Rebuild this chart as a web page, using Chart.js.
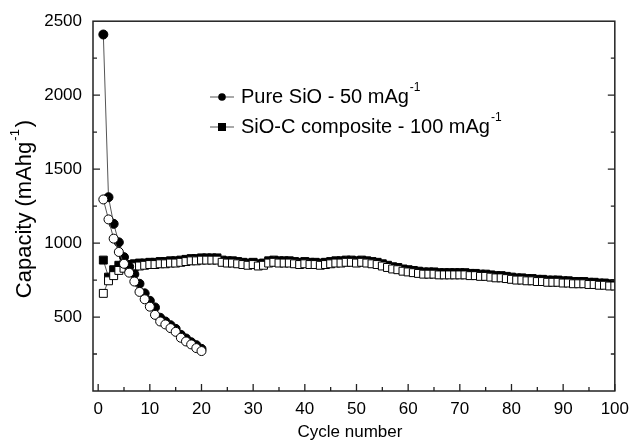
<!DOCTYPE html>
<html>
<head>
<meta charset="utf-8">
<script src="https://cdn.jsdelivr.net/npm/chart.js@4"></script>
<style>
  html, body { margin: 0; padding: 0; background: #fff; }
  #wrap { width: 637px; height: 445px; }
</style>
</head>
<body>
<div id="wrap"><canvas id="capacity" width="637" height="445"></canvas></div>
<script>
// cycle numbers
const cycles = [
  1, 2, 3, 4, 5, 6, 7, 8, 9, 10, 11, 12, 13, 14, 15, 16, 17, 18, 19, 20,
  21, 22, 23, 24, 25, 26, 27, 28, 29, 30, 31, 32, 33, 34, 35, 36, 37, 38, 39, 40,
  41, 42, 43, 44, 45, 46, 47, 48, 49, 50, 51, 52, 53, 54, 55, 56, 57, 58, 59, 60,
  61, 62, 63, 64, 65, 66, 67, 68, 69, 70, 71, 72, 73, 74, 75, 76, 77, 78, 79, 80,
  81, 82, 83, 84, 85, 86, 87, 88, 89, 90, 91, 92, 93, 94, 95, 96, 97, 98, 99, 100,
];

// Pure SiO, 50 mA/g (cycles 1-20)
const sioDischarge = [2410, 1310, 1130, 1005, 905, 840, 790, 725, 660, 610,
  565, 495, 470, 445, 420, 380, 355, 330, 310, 285];
const sioCharge = [1295, 1160, 1030, 940, 860, 800, 740, 670, 620, 570,
  515, 470, 450, 425, 400, 360, 335, 315, 290, 270];

// SiO-C composite, 100 mA/g (cycles 1-100)
const compDischarge = [
  885, 770, 820, 850, 860, 855, 860, 865, 865, 870,
  870, 875, 875, 880, 880, 885, 890, 895, 895, 900,
  900, 900, 900, 885, 880, 880, 875, 870, 865, 870,
  860, 865, 880, 885, 880, 880, 880, 875, 870, 875,
  870, 870, 865, 870, 875, 880, 880, 885, 885, 880,
  885, 880, 875, 870, 860, 850, 840, 835, 825, 820,
  815, 810, 805, 805, 805, 800, 800, 800, 800, 800,
  800, 795, 795, 790, 790, 785, 780, 780, 775, 770,
  765, 765, 760, 760, 755, 755, 750, 750, 750, 745,
  745, 740, 740, 740, 735, 735, 730, 730, 725, 725,
];
const compCharge = [
  660, 745, 780, 815, 830, 835, 840, 845, 850, 855,
  855, 860, 860, 865, 865, 870, 875, 880, 880, 885,
  885, 885, 885, 870, 865, 865, 860, 855, 850, 855,
  845, 850, 865, 870, 865, 865, 865, 860, 855, 860,
  855, 855, 850, 855, 860, 865, 865, 870, 870, 865,
  870, 865, 860, 855, 845, 835, 825, 820, 810, 805,
  800, 795, 790, 790, 790, 785, 785, 785, 785, 785,
  785, 780, 780, 775, 775, 770, 765, 765, 760, 755,
  750, 750, 745, 745, 740, 740, 735, 735, 735, 730,
  730, 725, 725, 725, 720, 720, 715, 715, 710, 710,
];

const xTicks = [0, 10, 20, 30, 40, 50, 60, 70, 80, 90, 100];
const yTicks = [500, 1000, 1500, 2000, 2500];

const legendItems = ["Pure SiO - 50 mAg", "SiO-C composite - 100 mAg"];

function pts(values) {
  return values.map((v, i) => ({ x: cycles[i], y: v }));
}

const FONT = "Liberation Sans, Arial, sans-serif";
const lineColor = "#555";

// write text with a "-1" superscript after it
function supText(ctx, base, sup, x, y, size) {
  ctx.font = size + "px " + FONT;
  ctx.fillText(base, x, y);
  const w = ctx.measureText(base).width;
  ctx.font = Math.round(size * 0.6) + "px " + FONT;
  ctx.fillText(sup, x + w + 1, y - size * 0.45);
  return w + 1 + ctx.measureText(sup).width;
}

const framePlugin = {
  id: "frame",
  afterDraw(chart) {
    const ctx = chart.ctx;
    const a = chart.chartArea;
    const xs = chart.scales.x;
    const ys = chart.scales.y;
    ctx.save();
    ctx.strokeStyle = "#222";
    ctx.lineWidth = 1.5;
    ctx.strokeRect(a.left, a.top, a.right - a.left, a.bottom - a.top);

    ctx.lineWidth = 1.3;
    ctx.beginPath();
    // y ticks, left and right, pointing inward
    for (let v = 250; v < 2500; v += 250) {
      const py = ys.getPixelForValue(v);
      const len = v % 500 === 0 ? 7 : 4;
      ctx.moveTo(a.left, py); ctx.lineTo(a.left + len, py);
      ctx.moveTo(a.right, py); ctx.lineTo(a.right - len, py);
    }
    // x ticks on bottom
    for (let v = 0; v <= 100; v += 5) {
      const px = xs.getPixelForValue(v);
      const len = v % 10 === 0 ? 7 : 4;
      ctx.moveTo(px, a.bottom); ctx.lineTo(px, a.bottom - len);
    }
    ctx.stroke();

    // legend
    ctx.fillStyle = "#000";
    ctx.textBaseline = "middle";
    ctx.textAlign = "left";
    const rows = [97, 127];
    rows.forEach((ry, i) => {
      ctx.strokeStyle = lineColor;
      ctx.lineWidth = 1;
      ctx.beginPath();
      ctx.moveTo(210, ry); ctx.lineTo(234, ry);
      ctx.stroke();
      ctx.fillStyle = "#000";
      if (i === 0) {
        ctx.beginPath();
        ctx.arc(222, ry, 3.8, 0, Math.PI * 2);
        ctx.fill();
      } else {
        ctx.fillRect(218, ry - 4, 8, 8);
      }
      supText(ctx, legendItems[i], "-1", 241, ry, 20);
    });

    // axis titles
    ctx.textAlign = "left";
    ctx.font = "17px " + FONT;
    const xt = "Cycle number";
    const xw = ctx.measureText(xt).width;
    ctx.fillText(xt, 350 - xw / 2, 432);

    const ts = 22;
    ctx.translate(25, 209);
    ctx.rotate(-Math.PI / 2);
    ctx.font = ts + "px " + FONT;
    const w1 = ctx.measureText("Capacity (mAhg").width;
    ctx.font = Math.round(ts * 0.6) + "px " + FONT;
    const w2 = ctx.measureText("-1").width;
    ctx.font = ts + "px " + FONT;
    const w3 = ctx.measureText(")").width;
    const start = -(w1 + 1 + w2 + 2 + w3) / 2;
    supText(ctx, "Capacity (mAhg", "-1", start, 0, ts);
    ctx.font = ts + "px " + FONT;
    ctx.fillText(")", start + w1 + 1 + w2 + 2, 0);
    ctx.restore();
  },
};

function series(values, style, filled, radius) {
  return {
    data: pts(values),
    borderColor: lineColor,
    borderWidth: 1,
    pointStyle: style,
    pointRadius: radius,
    pointBorderWidth: 1,
    pointBorderColor: "#000",
    pointBackgroundColor: filled ? "#000" : "#fff",
    showLine: true,
    tension: 0,
  };
}

new Chart(document.getElementById("capacity"), {
  type: "scatter",
  data: {
    datasets: [
      // open markers first so they sit on top
      series(sioCharge, "circle", false, 4.5),
      series(sioDischarge, "circle", true, 4.5),
      series(compCharge, "rect", false, 5.6),
      series(compDischarge, "rect", true, 5.6),
    ],
  },
  options: {
    responsive: false,
    animation: false,
    layout: { padding: { left: 0, top: 20, right: 16, bottom: 0 } },
    plugins: {
      legend: { display: false },
      tooltip: { enabled: false },
    },
    scales: {
      x: {
        type: "linear",
        min: -1,
        max: 100,
        grid: { display: false, drawTicks: false },
        border: { display: false },
        afterBuildTicks: (scale) => {
          scale.ticks = xTicks.map((v) => ({ value: v }));
        },
        afterFit: (scale) => { scale.height = 54; },
        ticks: {
          color: "#000",
          padding: 8,
          maxRotation: 0,
          font: { size: 17, family: FONT },
          callback: (v) => String(v),
        },
      },
      y: {
        type: "linear",
        min: 0,
        max: 2500,
        grid: { display: false, drawTicks: false },
        border: { display: false },
        afterBuildTicks: (scale) => {
          scale.ticks = yTicks.map((v) => ({ value: v }));
        },
        afterFit: (scale) => { scale.width = 93; },
        ticks: {
          color: "#000",
          padding: 11,
          font: { size: 17, family: FONT },
          callback: (v) => String(v),
        },
      },
    },
  },
  plugins: [framePlugin],
});
</script>
</body>
</html>
